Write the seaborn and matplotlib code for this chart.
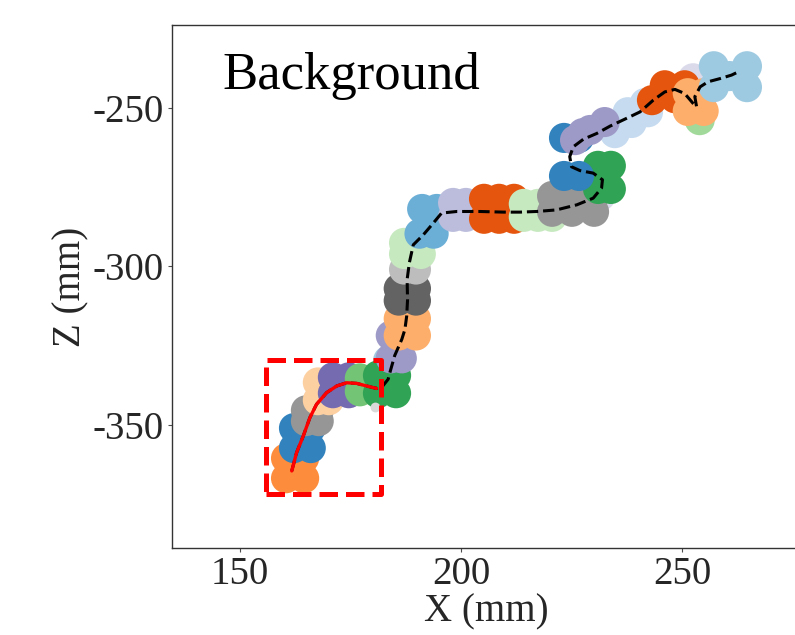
import numpy as np
import pandas as pd
import matplotlib
matplotlib.use("Agg")
import matplotlib.pyplot as plt
import seaborn as sns

# ---------------- data ----------------
# segmented point clusters along the trajectory: colour of each cluster
cluster_colors = [
    "#fd8d3c", "#3182bd", "#969696", "#fdd0a2", "#756bb1", "#74c476",
    "#9ecae1", "#31a354", "#9e9ac8", "#fdae6b", "#636363", "#bdbdbd",
    "#c7e9c0", "#6baed6", "#bcbddc", "#e6550d", "#c7e9c0", "#dadaeb",
    "#969696", "#31a354", "#3182bd", "#c6dbef", "#9e9ac8", "#dadaeb",
    "#e6550d", "#a1d99b", "#fdae6b", "#9ecae1",
]
# anchor points of each cluster (x, z in mm) and the cluster they belong to
anchor_cluster = [0, 0, 0, 0,
                  1, 1, 1, 1,
                  2, 2, 2, 2,
                  3, 3, 3, 3,
                  4, 4, 4, 4,
                  5, 5,
                  6, 6,
                  7, 7, 7, 7,
                  8, 8, 8, 8,
                  9, 9, 9, 9,
                  10, 10, 10, 10,
                  11, 11,
                  12, 12, 12, 12,
                  13, 13, 13, 13,
                  14, 14, 14, 14,
                  15, 15, 15, 15, 15, 15,
                  16, 16, 16, 16, 16, 16,
                  17,
                  18, 18, 18, 18, 18, 18,
                  19, 19, 19, 19,
                  20, 20, 20, 20,
                  21, 21, 21, 21, 21, 21,
                  22, 22, 22, 22,
                  23,
                  24, 24, 24, 24,
                  25,
                  26, 26, 26, 26,
                  27, 27, 27, 27, 27]
anchor_x = [160.4, 164.5, 160.4, 164.5,
            162.2, 166.0, 162.2, 166.0,
            164.9, 167.8, 164.9, 167.8,
            167.6, 170.1, 167.6, 170.1,
            171.0, 174.6, 171.0, 174.6,
            177.1, 177.1,
            183.5, 183.5,
            181.2, 185.3, 181.2, 185.3,
            184.1, 186.6, 184.1, 186.6,
            185.9, 189.8, 185.9, 189.8,
            185.9, 189.8, 185.9, 189.8,
            187.1, 189.8,
            187.1, 190.9, 187.1, 190.9,
            191.2, 194.5, 190.6, 193.8,
            198.2, 201.1, 198.2, 201.1,
            205.2, 208.6, 212.0, 205.2, 208.6, 212.0,
            214.2, 217.4, 220.6, 214.2, 217.4, 220.6,
            231.6,
            220.6, 225.1, 230.1, 220.6, 225.1, 230.1,
            231.0, 233.9, 231.0, 233.9,
            223.3, 226.7, 223.3, 226.7,
            233.2, 234.8, 237.7, 238.6, 241.6, 242.3,
            225.8, 229.2, 232.5, 227.5,
            252.5,
            243.2, 246.1, 250.6, 248.4,
            254.0,
            251.3, 254.9, 251.3, 254.9,
            257.2, 264.7, 257.2, 264.7, 260.8]
anchor_z = [-360.5, -360.5, -366.8, -366.8,
            -351.0, -351.0, -357.3, -357.3,
            -345.4, -345.4, -348.8, -348.8,
            -336.6, -336.6, -342.2, -342.2,
            -335.0, -335.0, -340.0, -340.0,
            -335.3, -339.4,
            -329.7, -334.4,
            -334.4, -334.4, -340.0, -340.0,
            -321.8, -321.8, -329.0, -329.0,
            -316.5, -316.5, -321.8, -321.8,
            -307.0, -307.0, -310.8, -310.8,
            -301.0, -301.0,
            -292.6, -292.6, -296.1, -296.1,
            -281.9, -281.9, -289.7, -289.7,
            -280.0, -280.0, -284.4, -284.4,
            -278.7, -278.7, -278.7, -285.0, -285.0, -285.0,
            -280.3, -280.3, -280.3, -284.4, -284.4, -284.4,
            -277.8,
            -277.8, -277.8, -277.8, -282.8, -282.8, -282.8,
            -268.3, -268.3, -275.6, -275.6,
            -259.5, -259.5, -271.5, -271.5,
            -255.5, -258.0, -251.4, -254.8, -248.5, -251.4,
            -260.2, -257.0, -254.5, -258.0,
            -240.7,
            -247.6, -242.9, -242.9, -247.0,
            -253.9,
            -245.4, -245.4, -251.0, -251.0,
            -236.9, -236.9, -243.5, -243.5, -240.0]
# isolated light-grey point
stray_x = [180.5]
stray_z = [-344.4]

# full estimated trajectory (black dashed)
path_x = [161.7, 162.8, 164.3, 165.8, 167.3, 169.6, 171.9, 174.1, 176.4, 178.6,
          180.9, 182.3, 183.5, 184.1, 185.0, 186.6, 187.3, 187.7, 187.9, 187.8,
          188.3, 189.2, 191.5, 193.7, 195.6, 199.0, 204.3, 209.6, 213.3, 217.1,
          221.6, 226.2, 229.9, 231.8, 232.0, 229.9, 226.9, 225.0, 224.6, 225.4,
          227.7, 230.7, 233.7, 237.5, 240.5, 243.5, 246.1, 248.4, 250.6, 252.5,
          253.3, 252.9, 254.1, 255.9, 258.6, 261.2, 262.7]
path_z = [-364.5, -358.7, -353.5, -347.7, -343.5, -339.8, -337.7, -336.7, -336.9, -337.7,
          -338.5, -337.7, -335.6, -332.5, -328.1, -323.0, -319.9, -315.7, -310.5, -304.2,
          -298.9, -293.2, -290.0, -286.4, -283.2, -282.7, -282.7, -282.9, -282.9, -282.7,
          -282.2, -280.6, -278.5, -275.3, -272.7, -270.6, -269.8, -268.6, -265.4, -262.3,
          -259.9, -258.1, -255.8, -253.3, -251.3, -247.6, -245.0, -244.2, -245.5, -248.6,
          -249.7, -246.5, -243.4, -241.8, -240.8, -239.7, -238.7]
# highlighted segment (red)
seg_x = [161.7, 162.8, 164.3, 165.8, 167.3, 169.6, 171.9, 174.1, 176.4, 178.6, 180.9]
seg_z = [-364.5, -358.7, -353.5, -347.7, -343.5, -339.8, -337.7, -336.7, -336.9, -337.7, -338.5]

# highlight box corners
box_x = [155.9, 181.8, 181.8, 155.9, 155.9]
box_z = [-371.8, -371.8, -329.6, -329.6, -371.8]

x_ticks = [150, 200, 250]
z_ticks = [-250, -300, -350]
x_label = "X (mm)"
z_label = "Z (mm)"
title_text = "Background"

# ---------------- plotting ----------------
sns.set_theme(style="ticks")
plt.rcParams["font.family"] = ["Liberation Serif", "DejaVu Serif"]
plt.rcParams["axes.unicode_minus"] = False

fig = plt.figure(figsize=(7.95, 6.35), dpi=100)
ax = fig.add_axes([172 / 795, 87 / 635, 628 / 795, 523 / 635])

df = pd.DataFrame({"x": anchor_x, "z": anchor_z, "cluster": anchor_cluster})
sns.scatterplot(data=df, x="x", y="z", hue="cluster",
                palette=cluster_colors, s=470, linewidth=0, alpha=1.0,
                legend=False, ax=ax, zorder=2)
sns.scatterplot(x=stray_x, y=stray_z, color="#d9d9d9", s=50, linewidth=0,
                legend=False, ax=ax, zorder=2)

path_df = pd.DataFrame({"x": path_x, "z": path_z})
sns.lineplot(data=path_df, x="x", y="z", sort=False, estimator=None,
             color="black", linestyle="--", linewidth=2.2, ax=ax, zorder=3)
seg_df = pd.DataFrame({"x": seg_x, "z": seg_z})
sns.lineplot(data=seg_df, x="x", y="z", sort=False, estimator=None,
             color="red", linewidth=2.4, ax=ax, zorder=4)
box_df = pd.DataFrame({"x": box_x, "z": box_z})
sns.lineplot(data=box_df, x="x", y="z", sort=False, estimator=None,
             color="red", linestyle="--", linewidth=3.6, ax=ax, zorder=5)

ax.set_xlim(134.6, 276.7)
ax.set_ylim(-388.8, -223.9)
ax.set_xticks(x_ticks)
ax.set_yticks(z_ticks)
ax.set_xticklabels([str(v) for v in x_ticks])
ax.set_yticklabels([str(v) for v in z_ticks])
ax.tick_params(axis="both", labelsize=28, length=3, width=0.8, color="0.3", pad=3)
ax.set_xlabel(x_label, fontsize=28, labelpad=0)
ax.set_ylabel(z_label, fontsize=28, labelpad=2)
for sp in ax.spines.values():
    sp.set_color("0.2")
    sp.set_linewidth(1.0)
    sp.set_visible(True)

ax.text(0.080, 0.877, title_text, transform=ax.transAxes, fontsize=38,
        ha="left", va="baseline", color="black")

fig.savefig("out.png", dpi=100)
